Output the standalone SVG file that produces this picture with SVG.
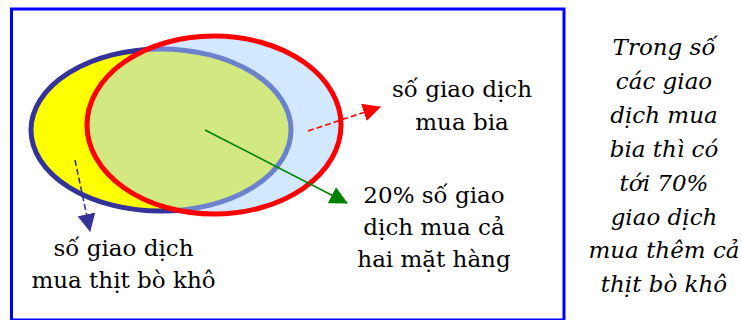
<svg xmlns="http://www.w3.org/2000/svg" width="742" height="320" viewBox="0 0 742 320">
  <style>
    .lbl { font-family: "DejaVu Serif", "Liberation Serif", serif; font-size: 23px; fill: #000; text-anchor: middle; }
    .note { font-family: "DejaVu Serif", "Liberation Serif", serif; font-style: italic; font-size: 23px; fill: #000; text-anchor: middle; }
    .frame { fill: none; stroke: #0000ff; stroke-width: 3; }
  </style>
  <defs>
    <marker id="ahRed" viewBox="0 0 18 18" refX="17" refY="9" markerWidth="18" markerHeight="18" markerUnits="userSpaceOnUse" orient="auto">
      <path d="M0,0 L18,9 L0,18 Z" fill="#ff0000"/>
    </marker>
    <marker id="ahGreen" viewBox="0 0 18 18" refX="17" refY="9" markerWidth="18" markerHeight="18" markerUnits="userSpaceOnUse" orient="auto">
      <path d="M0,0 L18,9 L0,18 Z" fill="#008000"/>
    </marker>
    <marker id="ahBlue" viewBox="0 0 18 18" refX="17" refY="9" markerWidth="18" markerHeight="18" markerUnits="userSpaceOnUse" orient="auto">
      <path d="M0,0 L18,9 L0,18 Z" fill="#333399"/>
    </marker>
  </defs>
  <rect width="742" height="320" fill="#ffffff"/>
  <rect class="frame" x="11.5" y="9" width="552.5" height="311"/>

  <g id="set-thit-bo-kho">
    <ellipse cx="161" cy="130" rx="130" ry="81" fill="#ffff00" stroke="#333399" stroke-width="5"/>
  </g>
  <g id="set-bia">
    <ellipse cx="214" cy="125" rx="127" ry="89" fill="#a6d2ff" fill-opacity="0.5" stroke="#ff0000" stroke-width="5"/>
  </g>

  <g id="connectors">
    <line x1="308" y1="131" x2="380" y2="107" stroke="#ff0000" stroke-width="1.6" stroke-dasharray="6 3" marker-end="url(#ahRed)"/>
    <line x1="205" y1="130" x2="347" y2="203" stroke="#008000" stroke-width="1.6" marker-end="url(#ahGreen)"/>
    <line x1="75" y1="160" x2="90" y2="231" stroke="#333399" stroke-width="1.6" stroke-dasharray="6 3" marker-end="url(#ahBlue)"/>
  </g>

  <g id="label-thit-bo-kho">
    <text class="lbl" x="123.5" y="256">số giao dịch</text>
    <text class="lbl" x="123.5" y="288">mua thịt bò khô</text>
  </g>
  <g id="label-bia">
    <text class="lbl" x="462" y="97">số giao dịch</text>
    <text class="lbl" x="462" y="130">mua bia</text>
  </g>
  <g id="label-ca-hai">
    <text class="lbl" x="434" y="203">20% số giao</text>
    <text class="lbl" x="434" y="235">dịch mua cả</text>
    <text class="lbl" x="434" y="267">hai mặt hàng</text>
  </g>
  <g id="note">
    <text class="note" x="664" y="55">Trong số</text>
    <text class="note" x="664" y="89">các giao</text>
    <text class="note" x="664" y="123">dịch mua</text>
    <text class="note" x="664" y="157">bia thì có</text>
    <text class="note" x="664" y="191">tới 70%</text>
    <text class="note" x="664" y="225">giao dịch</text>
    <text class="note" x="664" y="258">mua thêm cả</text>
    <text class="note" x="664" y="292">thịt bò khô</text>
  </g>
</svg>
